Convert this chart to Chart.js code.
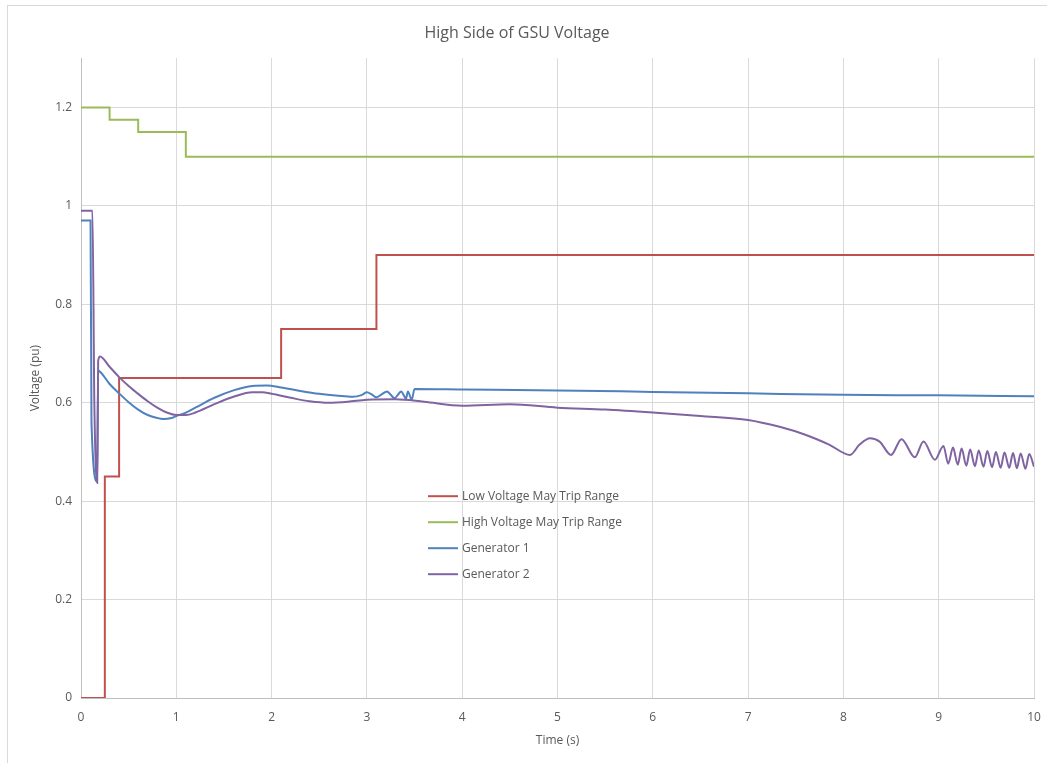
<!DOCTYPE html>
<html>
<head>
<meta charset="utf-8">
<script src="https://cdn.jsdelivr.net/npm/chart.js@4/dist/chart.umd.min.js"></script>
<style>
  html, body { margin: 0; padding: 0; background: #fff; }
  #wrap { position: relative; width: 1047px; height: 763px; overflow: hidden; }
  #frame { position: absolute; left: 7px; top: 5px; width: 1100px; height: 800px;
           border-left: 1px solid #d9d9d9; border-top: 1px solid #d9d9d9; }
  canvas { position: absolute; left: 0; top: 0; }
</style>
</head>
<body>
<div id="wrap">
  <div id="frame"></div>
  <canvas id="gsuChart" width="1047" height="763"></canvas>
</div>
<script>
// GSU high side voltage

const xTicks = [0, 1, 2, 3, 4, 5, 6, 7, 8, 9, 10];
const yTicks = [0, 0.2, 0.4, 0.6, 0.8, 1, 1.2];

const seriesNames = [
  "Low Voltage May Trip Range",
  "High Voltage May Trip Range",
  "Generator 1",
  "Generator 2",
];

// trip ranges (stepped)
const lowTime = [0, 0.25, 0.4, 2.1, 3.1, 10];
const lowVolt = [0, 0.45, 0.65, 0.75, 0.9, 0.9];

const highTime = [0, 0.3, 0.6, 1.1, 10];
const highVolt = [1.2, 1.175, 1.15, 1.1, 1.1];

// generator 1
const gen1Time = [0, 0.1, 0.11, 0.17, 0.18, 0.2, 0.3, 0.4, 0.5, 0.6, 0.7, 0.8, 0.86, 0.95,
  1.0, 1.1, 1.2, 1.4, 1.6, 1.8, 1.95, 2.1, 2.3, 2.5, 2.7, 2.85, 2.95, 3.0, 3.05, 3.1,
  3.155, 3.21, 3.25, 3.29, 3.325, 3.36, 3.39, 3.41, 3.43, 3.47, 3.5, 4, 5, 6, 7, 8, 9, 10];
const gen1Volt = [0.97, 0.97, 0.56, 0.44, 0.665, 0.663, 0.638, 0.619, 0.601, 0.586, 0.575, 0.569, 0.567, 0.569,
  0.573, 0.58, 0.59, 0.61, 0.625, 0.634, 0.635, 0.631, 0.624, 0.618, 0.614, 0.612, 0.616, 0.621, 0.617, 0.611,
  0.617, 0.623, 0.616, 0.609, 0.616, 0.623, 0.614, 0.608, 0.623, 0.606, 0.628, 0.627, 0.625, 0.622, 0.619, 0.616, 0.615, 0.613];

// generator 2
const gen2Time = [0, 0.12, 0.14, 0.17, 0.18, 0.2, 0.3, 0.4, 0.5, 0.6, 0.7, 0.8, 0.9, 1.0,
  1.1, 1.2, 1.4, 1.6, 1.8, 1.9, 2.0, 2.2, 2.4, 2.6, 2.8, 3.0, 3.3, 3.6, 4.0, 4.5, 5.0,
  5.5, 6.0, 6.5, 7.0, 7.33, 7.6, 7.85, 8.07, 8.17, 8.28, 8.38, 8.5, 8.61, 8.75, 8.84,
  8.96, 9.05, 9.1, 9.15, 9.2, 9.24, 9.29, 9.33, 9.38, 9.42, 9.47, 9.51, 9.56, 9.6, 9.65,
  9.69, 9.74, 9.78, 9.82, 9.86, 9.91, 9.95, 10];
const gen2Volt = [0.99, 0.99, 0.6, 0.437, 0.685, 0.694, 0.673, 0.652, 0.634, 0.618, 0.603, 0.59, 0.58, 0.575,
  0.575, 0.58, 0.597, 0.612, 0.621, 0.621, 0.618, 0.61, 0.603, 0.6, 0.602, 0.606, 0.607, 0.602, 0.594, 0.597, 0.59,
  0.586, 0.58, 0.573, 0.565, 0.551, 0.535, 0.515, 0.494, 0.515, 0.528, 0.521, 0.494, 0.526, 0.489, 0.521,
  0.484, 0.512, 0.476, 0.509, 0.474, 0.507, 0.472, 0.505, 0.471, 0.503, 0.47, 0.502, 0.469, 0.5, 0.468,
  0.499, 0.468, 0.498, 0.467, 0.497, 0.466, 0.496, 0.47];

const seriesColors = ["#C0504D", "#9BBB59", "#4F81BD", "#8064A2"];

function toPoints(xs, ys) {
  return xs.map((x, i) => ({ x: x, y: ys[i] }));
}

// legend drawn inside the plot area, like the Excel original
const innerLegend = {
  id: "innerLegend",
  afterDraw(chart) {
    const ctx = chart.ctx;
    const area = chart.chartArea;
    const x0 = area.left + 347;
    const y0 = area.top + 438;
    ctx.save();
    ctx.font = "12px 'Open Sans'";
    ctx.textBaseline = "middle";
    ctx.fillStyle = "#595959";
    seriesNames.forEach((name, i) => {
      const y = y0 + i * 26;
      ctx.strokeStyle = seriesColors[i];
      ctx.lineWidth = 2;
      ctx.beginPath();
      ctx.moveTo(x0, y);
      ctx.lineTo(x0 + 30, y);
      ctx.stroke();
      ctx.fillText(name, x0 + 34, y);
    });
    ctx.restore();
  },
};

const ctx = document.getElementById("gsuChart");
new Chart(ctx, {
  type: "line",
  data: {
    datasets: [
      {
        label: seriesNames[0],
        data: toPoints(lowTime, lowVolt),
        borderColor: seriesColors[0],
        stepped: "before",
        borderWidth: 2,
        pointRadius: 0,
        order: 2,
      },
      {
        label: seriesNames[1],
        data: toPoints(highTime, highVolt),
        borderColor: seriesColors[1],
        stepped: "before",
        borderWidth: 2,
        pointRadius: 0,
        order: 3,
      },
      {
        label: seriesNames[2],
        data: toPoints(gen1Time, gen1Volt),
        borderColor: seriesColors[2],
        cubicInterpolationMode: "monotone",
        borderWidth: 2,
        pointRadius: 0,
        order: 1,
      },
      {
        label: seriesNames[3],
        data: toPoints(gen2Time, gen2Volt),
        borderColor: seriesColors[3],
        cubicInterpolationMode: "monotone",
        borderWidth: 2,
        pointRadius: 0,
        order: 0,
      },
    ],
  },
  options: {
    responsive: false,
    animation: false,
    layout: { padding: { left: 0, right: 13, top: 0, bottom: 0 } },
    plugins: {
      legend: { display: false },
      tooltip: { enabled: false },
      title: {
        display: true,
        text: "High Side of GSU Voltage",
        color: "#595959",
        font: { family: "'Open Sans'", size: 16, weight: "normal" },
        padding: { top: 24, bottom: 15 },
      },
    },
    scales: {
      x: {
        type: "linear",
        min: 0,
        max: 10,
        afterBuildTicks: (scale) => {
          scale.ticks = xTicks.map((v) => ({ value: v }));
        },
        afterFit: (scale) => {
          scale.height = 65;
          scale.paddingLeft = 0;
          scale.paddingRight = 0;
        },
        grid: { color: "#d9d9d9", drawTicks: false },
        border: { color: "#bfbfbf" },
        ticks: {
          color: "#595959",
          font: { family: "'Open Sans'", size: 12 },
          padding: 12,
        },
        title: {
          display: true,
          text: "Time (s)",
          color: "#595959",
          font: { family: "'Open Sans'", size: 12 },
          padding: { top: 4, bottom: 15 },
        },
      },
      y: {
        type: "linear",
        min: 0,
        max: 1.3,
        afterBuildTicks: (scale) => {
          scale.ticks = yTicks.map((v) => ({ value: v }));
        },
        afterFit: (scale) => {
          scale.width = 81;
        },
        grid: { color: "#d9d9d9", drawTicks: false },
        border: { color: "#bfbfbf" },
        ticks: {
          color: "#595959",
          font: { family: "'Open Sans'", size: 12 },
          padding: 9,
          callback: (v) => String(Math.round(v * 10) / 10),
        },
        title: {
          display: true,
          text: "Voltage (pu)",
          color: "#595959",
          font: { family: "'Open Sans'", size: 12 },
          padding: { top: 28, bottom: 4 },
        },
      },
    },
  },
  plugins: [innerLegend],
});
</script>
</body>
</html>
